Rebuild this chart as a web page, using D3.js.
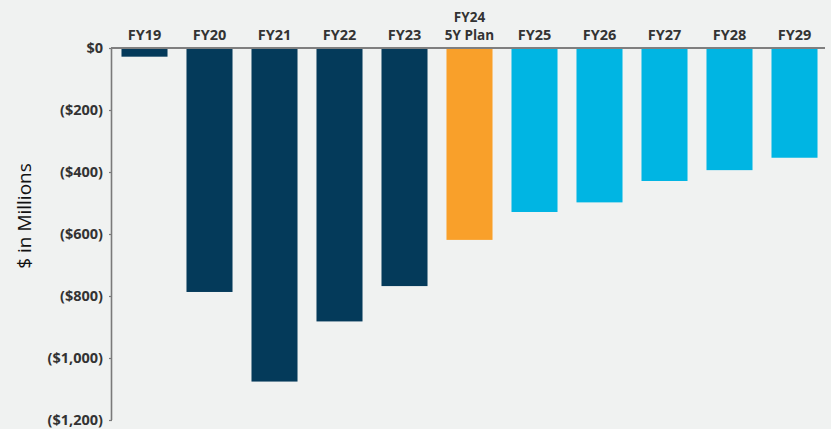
<!DOCTYPE html>
<html>
<head>
<meta charset="utf-8">
<script src="https://cdn.jsdelivr.net/npm/d3@7"></script>
<style>
  html, body { margin: 0; padding: 0; background: #f0f2f1; }
  svg { display: block; }
</style>
</head>
<body>
<svg id="chart" width="831" height="429"></svg>
<script>
const categories = ["FY19", "FY20", "FY21", "FY22", "FY23", "FY24\n5Y Plan", "FY25", "FY26", "FY27", "FY28", "FY29"];
const values = [-28, -787, -1076, -882, -768, -619, -529, -498, -429, -394, -354];
const groups = ["actual", "actual", "actual", "actual", "actual", "plan", "forecast", "forecast", "forecast", "forecast", "forecast"];
const yTicks = [0, -200, -400, -600, -800, -1000, -1200];
const yTitle = "$ in Millions";

const colors = { actual: "#043a5a", plan: "#f9a02a", forecast: "#00b5e3" };

const svg = d3.select("#chart");
const W = 831, H = 429;
svg.append("rect").attr("width", W).attr("height", H).attr("fill", "#f0f2f1");

const x = d3.scaleBand().domain(categories).range([112, 827]).paddingInner(0.292).paddingOuter(0.146);
const y = d3.scaleLinear().domain([-1200, 0]).range([420, 48]);

const fmt = v => v === 0 ? "$0" : "($" + d3.format(",")(Math.abs(v)) + ")";

// bars
svg.append("g").selectAll("rect").data(values).join("rect")
  .attr("x", (d, i) => x(categories[i]))
  .attr("width", x.bandwidth())
  .attr("y", d => y(0))
  .attr("height", d => y(d) - y(0))
  .attr("fill", (d, i) => colors[groups[i]]);

// y axis
const yAxis = d3.axisLeft(y).tickValues(yTicks).tickFormat(fmt).tickSize(3).tickPadding(6);
const gy = svg.append("g").attr("transform", "translate(112,0)").call(yAxis);
gy.select(".domain").attr("stroke", "#7a7a7a").attr("stroke-width", 1.6).attr("d", `M-0.5,${y(0)}V${y(-1200)}`);
gy.selectAll(".tick line").attr("stroke", "#7a7a7a").attr("stroke-width", 1.2);
gy.selectAll(".tick text")
  .attr("fill", "#333")
  .style("font-family", "'Open Sans', sans-serif")
  .style("font-weight", "700")
  .style("font-size", "14.5px");

// top zero line
svg.append("line")
  .attr("x1", 111).attr("x2", 825)
  .attr("y1", y(0)).attr("y2", y(0))
  .attr("stroke", "#7f7f7f").attr("stroke-width", 2);

// category labels on top (one text per line)
const lines = [];
categories.forEach(c => {
  const parts = c.split("\n");
  parts.forEach((p, j) => lines.push({ cat: c, text: p, row: parts.length - 1 - j, multi: parts.length > 1 }));
});
svg.append("g").selectAll("text").data(lines).join("text")
  .attr("x", d => x(d.cat) + x.bandwidth() / 2)
  .attr("y", d => 40 - d.row * 18.5)
  .attr("text-anchor", "middle")
  .attr("fill", "#333")
  .style("font-family", "'Open Sans', sans-serif")
  .style("font-weight", "700")
  .style("font-size", d => d.multi ? "13.5px" : "14.5px")
  .text(d => d.text);

// y title
svg.append("text")
  .attr("transform", "translate(31,216) rotate(-90)")
  .attr("text-anchor", "middle")
  .attr("fill", "#111")
  .style("font-family", "'Open Sans', sans-serif")
  .style("font-size", "19px")
  .text(yTitle);
</script>
</body>
</html>
